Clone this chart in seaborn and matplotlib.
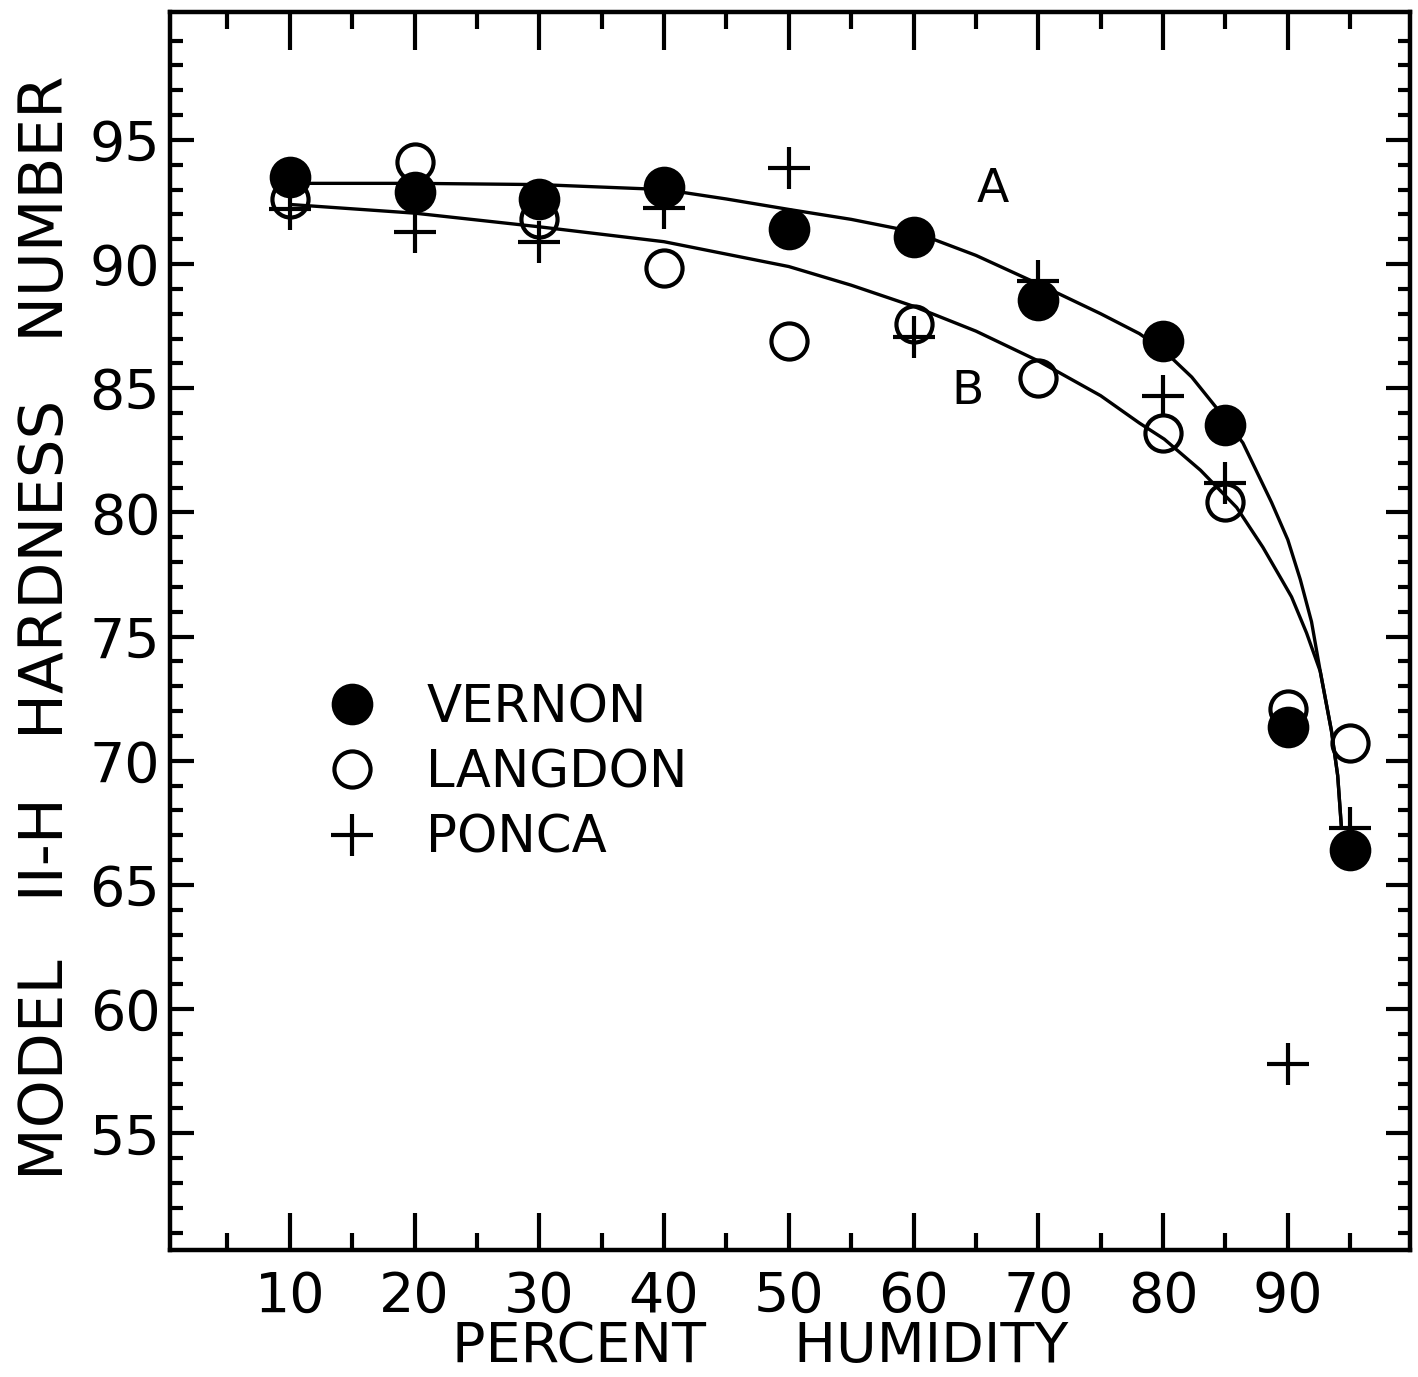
import matplotlib
matplotlib.use("Agg")
import matplotlib.pyplot as plt
from matplotlib.ticker import FixedLocator
import seaborn as sns

# percent humidity at which each sample was measured
humidity = [10, 20, 30, 40, 50, 60, 70, 80, 85, 90, 95]

# hardness readings per variety
vernon = [93.5, 92.9, 92.6, 93.1, 91.4, 91.1, 88.55, 86.9, 83.5, 71.35, 66.4]
langdon = [92.6, 94.1, 91.8, 89.85, 86.9, 87.6, 85.4, 83.2, 80.4, 72.1, 70.7]
ponca = [92.2, 91.3, 90.9, 92.25, 93.85, 87.05, 89.3, 84.7, 81.2, 57.8, 67.3]

# hand-drawn fitted curves A and B
curve_a_x = [10, 20, 30, 40, 45, 50, 55, 60, 65, 70, 75, 78.1, 80.1, 82.3, 84.3, 86.4, 88.7, 90.0, 91.0, 91.9, 92.6, 93.5, 94.0, 94.3]
curve_a_y = [93.25, 93.25, 93.2, 93.0, 92.62, 92.2, 91.8, 91.3, 90.35, 89.2, 88.0, 87.2, 86.5, 85.45, 84.2, 82.8, 80.4, 78.9, 77.3, 75.6, 73.6, 71.2, 69.4, 67.3]
curve_b_x = [10, 20, 30, 40, 50, 55, 60, 65, 70, 75, 78.1, 80.1, 83.0, 85.9, 88.0, 89.5, 90.3, 91.5, 92.6, 93.5, 94.0, 94.3]
curve_b_y = [92.4, 92.05, 91.5, 90.9, 89.9, 89.15, 88.3, 87.3, 86.1, 84.7, 83.6, 82.95, 81.7, 80.2, 78.6, 77.3, 76.6, 75.15, 73.6, 71.2, 69.4, 67.3]

x_ticks = [10, 20, 30, 40, 50, 60, 70, 80, 90]
x_minor = [5, 15, 25, 35, 45, 55, 65, 75, 85, 95]
y_ticks = [55, 60, 65, 70, 75, 80, 85, 90, 95]
y_minor = [v for v in range(51, 100) if v % 5 != 0]

sns.set_style("ticks")
plt.rcParams["font.family"] = ["DejaVu Sans"]
plt.rcParams["text.color"] = "black"
plt.rcParams["axes.labelcolor"] = "black"
plt.rcParams["xtick.color"] = "black"
plt.rcParams["ytick.color"] = "black"

fig = plt.figure(figsize=(14.18, 13.77), dpi=100)
ax = fig.add_axes([0.1199, 0.0922, 0.8745, 0.8991])

# fitted curves
sns.lineplot(x=curve_a_x, y=curve_a_y, ax=ax, color="black", lw=2.4, sort=False, estimator=None)
sns.lineplot(x=curve_b_x, y=curve_b_y, ax=ax, color="black", lw=2.4, sort=False, estimator=None)

# data points
sns.lineplot(x=humidity, y=vernon, ax=ax, color="black", linestyle="", marker="o",
             markersize=30, markeredgewidth=0, markeredgecolor="black", label="VERNON")
sns.lineplot(x=humidity, y=langdon, ax=ax, color="black", linestyle="", marker="o",
             markersize=26, markerfacecolor="none", markeredgecolor="black",
             markeredgewidth=3, label="LANGDON")
sns.lineplot(x=humidity, y=ponca, ax=ax, color="black", linestyle="", marker="+",
             markersize=30, markeredgewidth=3, markeredgecolor="black", label="PONCA")

ax.text(66.35, 93.0, "A", fontsize=34, ha="center", va="center")
ax.text(64.35, 84.85, "B", fontsize=34, ha="center", va="center")

ax.set_xlim(0.4, 99.8)
ax.set_ylim(50.3, 100.15)

ax.xaxis.set_major_locator(FixedLocator(x_ticks))
ax.xaxis.set_minor_locator(FixedLocator(x_minor))
ax.yaxis.set_major_locator(FixedLocator(y_ticks))
ax.yaxis.set_minor_locator(FixedLocator(y_minor))

ax.tick_params(axis="both", which="both", direction="in", top=True, right=True,
               color="black", width=3)
ax.tick_params(axis="x", which="major", length=27, labelsize=40, pad=14)
ax.tick_params(axis="x", which="minor", length=12)
ax.tick_params(axis="y", which="major", length=17, labelsize=40, pad=7)
ax.tick_params(axis="y", which="minor", length=9)

for sp in ax.spines.values():
    sp.set_linewidth(3.2)
    sp.set_color("black")

ax.set_xlabel("PERCENT     HUMIDITY", fontsize=40)
ax.set_ylabel("MODEL   II-H   HARDNESS   NUMBER", fontsize=44)
ax.xaxis.set_label_coords(0.476, -0.0565)
ax.yaxis.set_label_coords(-0.076, 0.503)

handles, labels = ax.get_legend_handles_labels()
ax.legend(handles, labels, loc="upper left", bbox_to_anchor=(0.1258, 0.458),
          frameon=False, fontsize=37, handlelength=1.0, handletextpad=0.95,
          labelspacing=0.3, borderpad=0, borderaxespad=0)

fig.savefig("out.png", dpi=100, facecolor="white")
